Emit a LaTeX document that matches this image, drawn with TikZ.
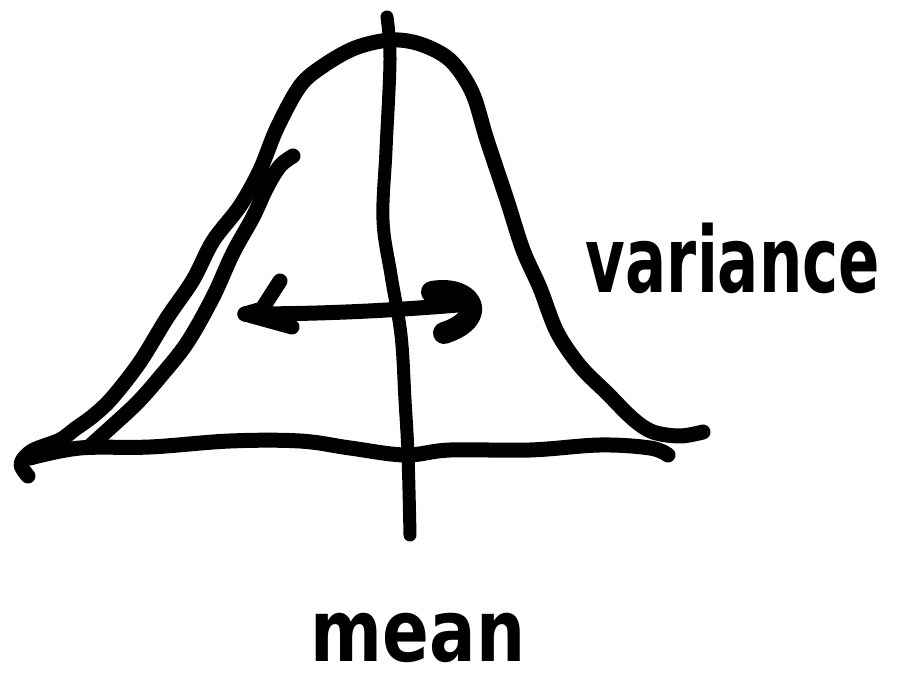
\documentclass[tikz,border=0pt]{standalone}
\usepackage{fontspec}
\newfontfamily\handfont{DejaVu Sans}
\begin{document}
\begin{tikzpicture}[x=1pt,y=-1pt,
  ink/.style={line width=15pt,line cap=round,line join=round,black},
  label/.style={font=\handfont\bfseries,inner sep=0pt}]
\useasboundingbox[fill=white] (0,0) rectangle (903,684);
% bell curve
\draw[ink] plot[smooth,tension=0.55] coordinates {(28,476) (21,464) (32,451) (60,440) (75,429) (93,416) (112,398) (140,362) (167,318) (193,280) (213,241) (240,206) (260,170) (277,128) (300,86) (323,66) (355,48) (390,40) (420,44) (450,60) (472,92) (487,140) (507,200) (523,250) (540,288) (557,332) (580,366) (607,393) (633,419) (653,432) (680,436) (703,432)};
% second stroke on the left flank
\draw[ink] plot[smooth,tension=0.55] coordinates {(293,156) (280,166) (267,187) (253,217) (233,253) (213,297) (187,343) (160,377) (137,403) (110,428) (90,446)};
% baseline
\draw[ink] plot[smooth,tension=0.6] coordinates {(30,458) (80,448) (150,447) (230,441) (300,441) (350,448) (405,455) (450,450) (530,450) (600,445) (650,448) (668,455)};
% mean line
\draw[ink,line width=13pt] plot[smooth,tension=0.6] coordinates {(387,17) (390,60) (386,150) (383,220) (391,275) (401,335) (405,400) (408,455) (410,535)};
% variance arrow
\coordinate (tipL) at (245,314);
\coordinate (tipR) at (470,304);
\draw[ink] (tipL) .. controls (330,314) and (400,310) .. (tipR);
\draw[ink] (tipL) -- (262,309) -- (280,281);
\draw[ink] (tipL) -- (292,327);
\draw[ink,line width=22pt] (432,292) .. controls (472,285) and (490,318) .. (444,333);
% labels
\node[label,font=\handfont\bfseries\fontsize{61}{61}\selectfont,yscale=1.5] (var) at (733,258) {variance};
\node[label,font=\handfont\bfseries\fontsize{69}{69}\selectfont,yscale=1.25] (mean) at (418,638) {mean};
\end{tikzpicture}
\end{document}
